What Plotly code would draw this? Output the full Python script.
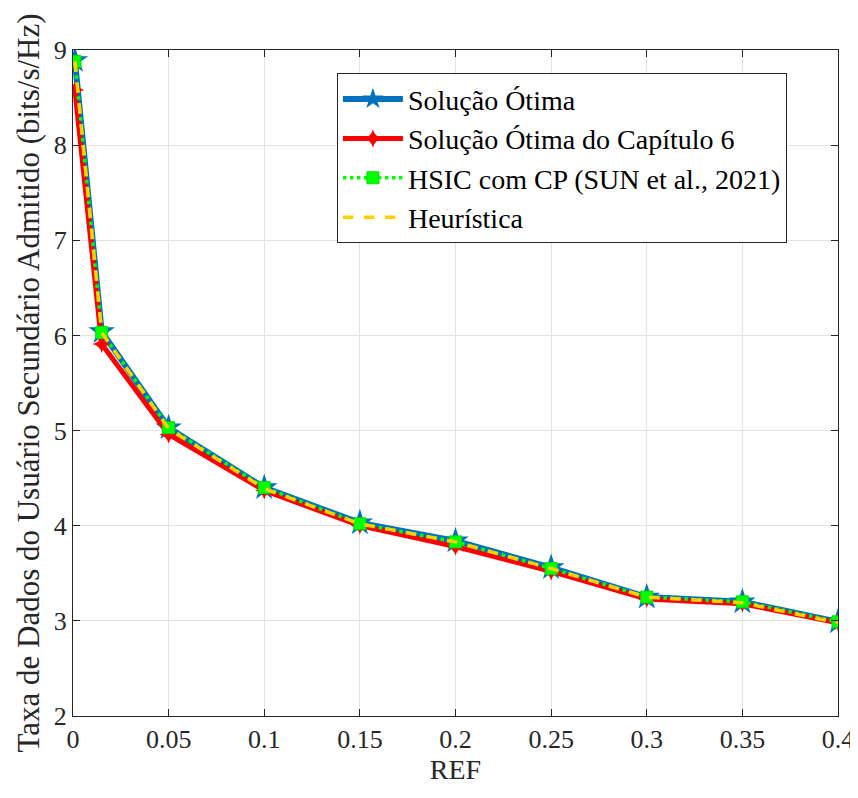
import plotly.graph_objects as go

ref = [0.001, 0.015, 0.05, 0.1, 0.15, 0.2, 0.25, 0.3, 0.35, 0.4]
otima = [8.89, 6.04, 5.03, 4.40, 4.03, 3.84, 3.56, 3.25, 3.20, 2.99]
otima_cap6 = [8.58, 5.91, 4.96, 4.37, 4.00, 3.78, 3.52, 3.23, 3.18, 2.98]
hsic_cp = [8.88, 6.03, 5.03, 4.40, 4.02, 3.83, 3.55, 3.25, 3.20, 2.99]
heuristica = [8.88, 6.03, 5.02, 4.39, 4.02, 3.83, 3.55, 3.25, 3.19, 2.98]

names = ["Solução Ótima", "Solução Ótima do Capítulo 6",
         "HSIC com CP (SUN et al., 2021)", "Heurística"]
xticks = [0, 0.05, 0.1, 0.15, 0.2, 0.25, 0.3, 0.35, 0.4]
xticklabels = ["0", "0.05", "0.1", "0.15", "0.2", "0.25", "0.3", "0.35", "0.4"]
yticks = [2, 3, 4, 5, 6, 7, 8, 9]

fig = go.Figure()
fig.add_trace(go.Scatter(x=ref, y=otima, name=names[0], mode="lines+markers",
                         line=dict(color="#0072BD", width=6),
                         marker=dict(symbol="star", size=20, color="#0072BD")))
fig.add_trace(go.Scatter(x=ref, y=otima_cap6, name=names[1], mode="lines+markers",
                         line=dict(color="#FF0000", width=5),
                         marker=dict(symbol="star-diamond", size=13, color="#FF0000")))
fig.add_trace(go.Scatter(x=ref, y=hsic_cp, name=names[2], mode="lines+markers",
                         line=dict(color="#00FF00", width=3.5, dash="dot"),
                         marker=dict(symbol="square", size=12, color="#00FF00",
                                     line=dict(color="#00DD00", width=1))))
fig.add_trace(go.Scatter(x=ref, y=heuristica, name=names[3], mode="lines",
                         line=dict(color="#FFD000", width=3.5, dash="dash")))

axis_common = dict(showline=True, linecolor="#262626", linewidth=1, mirror="ticks",
                   ticks="inside", ticklen=7, tickcolor="#262626",
                   showgrid=True, gridcolor="#E3E3E3", gridwidth=1,
                   zeroline=False, automargin=False,
                   tickfont=dict(family="Liberation Serif", size=26, color="#262626"))

fig.update_layout(
    width=850, height=790,
    margin=dict(l=65, r=20, t=42, b=82),
    paper_bgcolor="white", plot_bgcolor="white",
    font=dict(family="Liberation Serif", color="black"),
    xaxis=dict(range=[0, 0.4], tickvals=xticks, ticktext=xticklabels,
               title=dict(text="REF", font=dict(size=28, color="#262626"), standoff=6),
               **axis_common),
    yaxis=dict(range=[2, 9], tickvals=yticks,
               title=dict(text="Taxa de Dados do Usuário Secundário Admitido (bits/s/Hz)",
                          font=dict(size=31, color="#262626"), standoff=4),
               **axis_common),
    legend=dict(x=0.345, y=0.965, xanchor="left", yanchor="top",
                bgcolor="white", bordercolor="#262626", borderwidth=1,
                font=dict(family="Liberation Serif", size=28, color="black"),
                itemwidth=60, tracegroupgap=0),
)

fig.write_html("out.html")
